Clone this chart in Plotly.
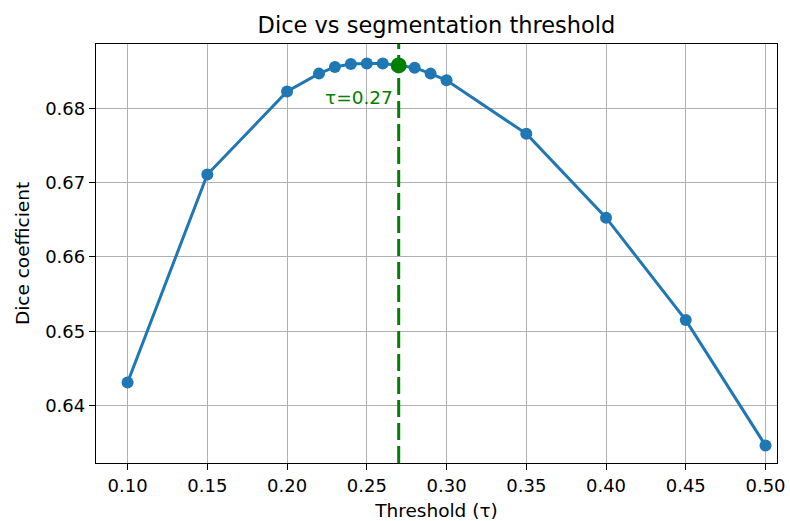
import plotly.graph_objects as go

thresholds = [0.10, 0.15, 0.20, 0.22, 0.23, 0.24, 0.25, 0.26, 0.27, 0.28, 0.29, 0.30, 0.35, 0.40, 0.45, 0.50]
dice = [0.6431, 0.6711, 0.6823, 0.6847, 0.6856, 0.6860, 0.68605, 0.68605, 0.6858, 0.6855, 0.6847, 0.6838, 0.6766, 0.6653, 0.6515, 0.6346]
best_tau = 0.27
best_dice = 0.6858
x_ticks = [0.10, 0.15, 0.20, 0.25, 0.30, 0.35, 0.40, 0.45, 0.50]
y_ticks = [0.64, 0.65, 0.66, 0.67, 0.68]

FONT = "DejaVu Sans"
BLUE = "#1f77b4"
GREEN = "#008000"

fig = go.Figure()
fig.add_trace(go.Scatter(
    x=thresholds, y=dice, mode="lines+markers",
    line=dict(color=BLUE, width=3),
    marker=dict(color=BLUE, size=12),
    showlegend=False,
))
fig.add_trace(go.Scatter(
    x=[best_tau], y=[best_dice], mode="markers",
    marker=dict(color=GREEN, size=16),
    showlegend=False,
))
fig.add_shape(type="line", xref="x", yref="paper", x0=best_tau, x1=best_tau, y0=0, y1=1,
              line=dict(color=GREEN, width=3, dash="17px,6px"), layer="above")
fig.add_annotation(x=best_tau, y=0.6815, xref="x", yref="y", text=f"τ={best_tau:.2f}",
                   showarrow=False, xanchor="right", yanchor="middle", xshift=-4,
                   font=dict(family=FONT, size=18.5, color=GREEN))

axis_common = dict(
    automargin=False,
    showgrid=True, gridcolor="#b0b0b0", gridwidth=1.3,
    showline=True, linecolor="black", linewidth=1.3, mirror=True,
    ticks="outside", ticklen=6, tickwidth=1.3, tickcolor="black",
    tickfont=dict(family=FONT, size=18, color="black"),
    zeroline=False,
)

fig.update_layout(
    template="none",
    width=790, height=521,
    margin=dict(l=96, r=13, t=44, b=58, autoexpand=False),
    paper_bgcolor="white", plot_bgcolor="white",
    title=dict(text="Dice vs segmentation threshold", x=0.5, xanchor="center",
               xref="paper", y=1 - 25 / 521, yanchor="middle",
               font=dict(family=FONT, size=22.5, color="black")),
    xaxis=dict(range=[0.0802, 0.5072], tickvals=x_ticks,
               ticktext=[f"{v:.2f}" for v in x_ticks],
               title=dict(text="Threshold (τ)", font=dict(family=FONT, size=18.5, color="black"), standoff=9),
               **axis_common),
    yaxis=dict(range=[0.63225, 0.68869], tickvals=y_ticks,
               ticktext=[f"{v:.2f}" for v in y_ticks],
               title=dict(text="Dice coefficient", font=dict(family=FONT, size=18.5, color="black"), standoff=10),
               **axis_common),
)

fig.write_html("out.html", config={"displayModeBar": False},
               post_script="document.body.style.margin='0';document.body.style.overflow='hidden';")
